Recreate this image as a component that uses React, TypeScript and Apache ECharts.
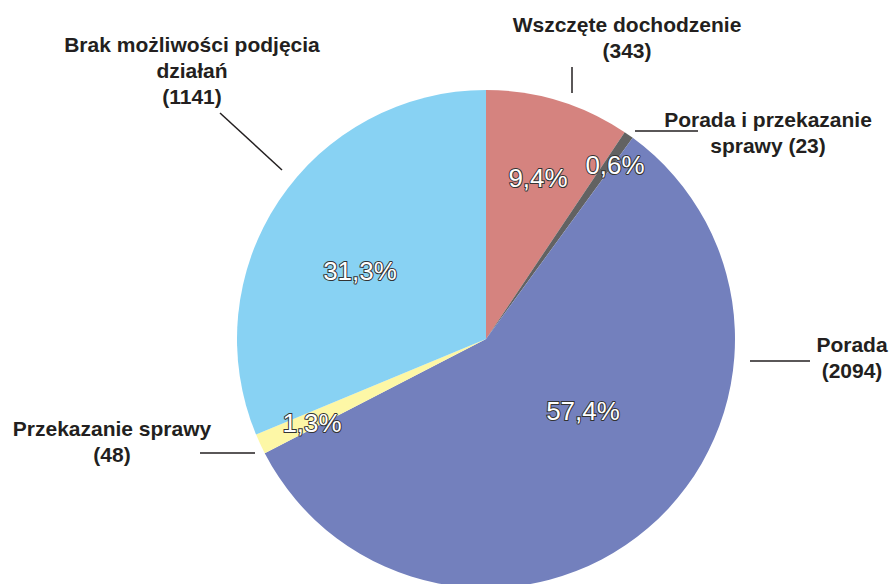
import React, { useEffect, useRef } from "react";
import * as echarts from "echarts";

const categories = [
  "Wszczęte dochodzenie",
  "Porada i przekazanie\nsprawy",
  "Porada",
  "Przekazanie sprawy",
  "Brak możliwości podjęcia\ndziałań",
];
const values = [343, 23, 2094, 48, 1141];
const colors = ["#d5837f", "#626262", "#7380bd", "#fdf7a6", "#88d2f3"];

// label placement (layout only)
const innerLabelPos: [number, number][] = [
  [538, 178],
  [615, 165],
  [583, 411],
  [312, 423],
  [360, 271],
];
const outerLabelPos: [number, number][] = [
  [627, 37],
  [768, 132],
  [852, 357],
  [112, 441],
  [192, 70],
];
const leaderLines: [number, number][][] = [
  [[572, 67], [572, 93]],
  [[635, 131], [698, 131]],
  [[750, 361], [810, 361]],
  [[200, 453], [255, 453]],
  [[220, 113], [282, 170]],
];

const FONT = "'Liberation Sans', Arial, Helvetica, sans-serif";

export default function App() {
  const ref = useRef<HTMLDivElement>(null);
  useEffect(() => {
    if (!ref.current) return;
    const chart = echarts.init(ref.current, undefined, { renderer: "svg" });
    const total = values.reduce((a, b) => a + b, 0);
    const data = categories.map((name, i) => ({
      name,
      value: values[i],
      itemStyle: { color: colors[i] },
    }));
    chart.setOption({
      animation: false,
      backgroundColor: "#ffffff",
      series: [
        {
          type: "pie",
          center: [486, 339],
          radius: [0, 249],
          startAngle: 90,
          clockwise: true,
          avoidLabelOverlap: false,
          silent: true,
          data,
          label: {
            show: true,
            position: "inside",
            color: "#ffffff",
            fontFamily: FONT,
            fontSize: 26,
            textBorderColor: "#333333",
            textBorderWidth: 2,
            formatter: (p: any) =>
              ((p.value / total) * 100).toFixed(1).replace(".", ",") + "%",
          },
          labelLine: { show: false },
          labelLayout: (p: any) => ({
            x: innerLabelPos[p.dataIndex][0],
            y: innerLabelPos[p.dataIndex][1],
            align: "center",
            verticalAlign: "middle",
          }),
        },
        {
          type: "pie",
          center: [486, 339],
          radius: [0, 249],
          startAngle: 90,
          clockwise: true,
          avoidLabelOverlap: false,
          silent: true,
          data: data.map((d) => ({ ...d, itemStyle: { color: "rgba(0,0,0,0)" } })),
          label: {
            show: true,
            position: "outside",
            color: "#231f20",
            fontFamily: FONT,
            fontSize: 21,
            fontWeight: "bold",
            lineHeight: 26,
            align: "center",
            formatter: (p: any) =>
              p.dataIndex === 1
                ? `${p.name} (${p.value})`
                : `${p.name}\n(${p.value})`,
          },
          labelLine: {
            show: true,
            length: 10,
            length2: 10,
            smooth: false,
            lineStyle: { color: "#231f20", width: 1.5 },
          },
          labelLayout: (p: any) => ({
            x: outerLabelPos[p.dataIndex][0],
            y: outerLabelPos[p.dataIndex][1],
            align: "center",
            verticalAlign: "middle",
            labelLinePoints: leaderLines[p.dataIndex],
          }),
        },
      ],
    });
    return () => chart.dispose();
  }, []);
  return (
    <div
      ref={ref}
      style={{ position: "absolute", left: 0, top: 0, width: 893, height: 584 }}
    />
  );
}
